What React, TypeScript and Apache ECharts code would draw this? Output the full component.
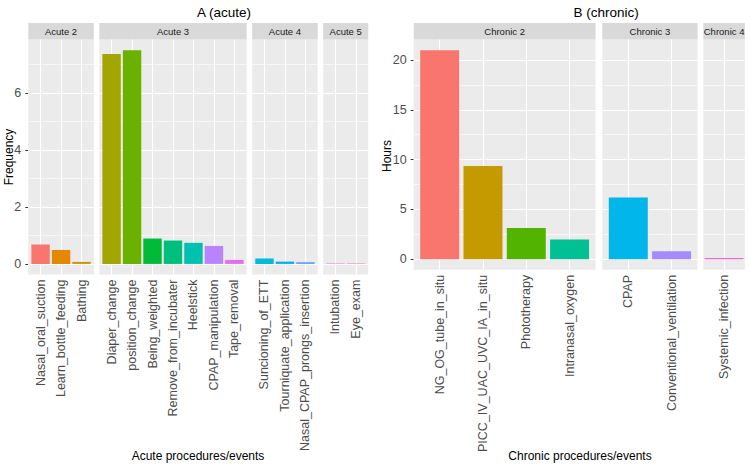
import React, { useEffect, useRef } from "react";
import * as echarts from "echarts";

// ---------- data ----------
const acute2Events = ["Nasal_oral_suction", "Learn_bottle_feeding", "Bathing"];
const acute2Freq = [0.68, 0.49, 0.07];
const acute3Events = ["Diaper_change", "position_change", "Being_weighted", "Remove_from_incubater", "Heelstick", "CPAP_manipulation", "Tape_removal"];
const acute3Freq = [7.37, 7.5, 0.89, 0.82, 0.74, 0.63, 0.14];
const acute4Events = ["Suncioning_of_ETT", "Tourniquate_application", "Nasal_CPAP_prongs_insertion"];
const acute4Freq = [0.19, 0.08, 0.06];
const acute5Events = ["Intubation", "Eye_exam"];
const acute5Freq = [0.015, 0.015];

const chronic2Events = ["NG_OG_tube_in_situ", "PICC_IV_UAC_UVC_IA_in_situ", "Phototherapy", "Intranasal_oxygen"];
const chronic2Hours = [20.97, 9.35, 3.15, 2.0];
const chronic3Events = ["CPAP", "Conventional_ventilation"];
const chronic3Hours = [6.2, 0.8];
const chronic4Events = ["Systemic_infection"];
const chronic4Hours = [0.13];

const acuteStrips = ["Acute 2", "Acute 3", "Acute 4", "Acute 5"];
const chronicStrips = ["Chronic 2", "Chronic 3", "Chronic 4"];

const acuteYTicks = [0, 2, 4, 6];
const acuteYMinor = [1, 3, 5, 7];
const chronicYTicks = [0, 5, 10, 15, 20];
const chronicYMinor = [2.5, 7.5, 12.5, 17.5];

const acute2Colors = ["#F8766D", "#E58700", "#C99800"];
const acute3Colors = ["#A3A500", "#6BB100", "#00BA38", "#00BF7D", "#00C0AF", "#B983FF", "#E76BF3"];
const acute4Colors = ["#00BCD8", "#00B0F6", "#619CFF"];
const acute5Colors = ["#FD61D1", "#FF67A4"];
const chronic2Colors = ["#F8766D", "#C49A00", "#53B400", "#00C094"];
const chronic3Colors = ["#00B6EB", "#A58AFF"];
const chronic4Colors = ["#FB61D7"];

// ---------- layout ----------
const FONT = "'Liberation Sans', Arial, sans-serif";
const STRIP_TOP = 23;
const PANEL_TOP = 39.5;
const A_BOTTOM = 274.6;
const B_BOTTOM = 269.8;
const A_UNIT = 20.47;
const B_UNIT = 43.3;

type Facet = {
  strip: string;
  labels: string[];
  values: number[];
  colors: string[];
  left: number;
  xmin: number;
  xmax: number;
  unit: number;
  bottom: number;
  ymin: number;
  ymax: number;
  ticks: number[];
  minor: number[];
  showY: boolean;
};

const acuteLefts = [28.3, 99.3, 252.2, 323.2];
const chronicLefts = [413.7, 602.3, 703.3];

const acuteFacetData = [
  [acute2Events, acute2Freq, acute2Colors],
  [acute3Events, acute3Freq, acute3Colors],
  [acute4Events, acute4Freq, acute4Colors],
  [acute5Events, acute5Freq, acute5Colors],
] as const;
const chronicFacetData = [
  [chronic2Events, chronic2Hours, chronic2Colors],
  [chronic3Events, chronic3Hours, chronic3Colors],
  [chronic4Events, chronic4Hours, chronic4Colors],
] as const;

const facets: Facet[] = [
  ...acuteFacetData.map(([labels, values, colors], i) => ({
    strip: acuteStrips[i],
    labels: labels as string[],
    values: values as number[],
    colors: colors as string[],
    left: acuteLefts[i],
    xmin: 0.4,
    xmax: labels.length + 0.6,
    unit: A_UNIT,
    bottom: A_BOTTOM,
    ymin: -0.375,
    ymax: 7.875,
    ticks: acuteYTicks,
    minor: acuteYMinor,
    showY: i === 0,
  })),
  ...chronicFacetData.map(([labels, values, colors], i) => ({
    strip: chronicStrips[i],
    labels: labels as string[],
    values: values as number[],
    colors: colors as string[],
    left: chronicLefts[i],
    xmin: labels.length === 1 ? 0.52 : 0.4,
    xmax: labels.length === 1 ? 1.48 : labels.length + 0.6,
    unit: B_UNIT,
    bottom: B_BOTTOM,
    ymin: -1.05,
    ymax: 22.05,
    ticks: chronicYTicks,
    minor: chronicYMinor,
    showY: i === 0,
  })),
];

function buildOption() {
  const grid: any[] = [];
  const xAxis: any[] = [];
  const yAxis: any[] = [];
  const series: any[] = [];
  const graphic: any[] = [];

  facets.forEach((f, k) => {
    const width = (f.xmax - f.xmin) * f.unit;
    const positions = f.labels.map((_, i) => i + 1);
    grid.push({
      left: f.left,
      top: PANEL_TOP,
      width,
      height: f.bottom - PANEL_TOP,
      show: true,
      backgroundColor: "#EBEBEB",
      borderWidth: 0,
      containLabel: false,
    });
    xAxis.push({
      type: "value",
      gridIndex: k,
      min: f.xmin,
      max: f.xmax,
      axisLine: { show: false },
      splitLine: { show: false },
      axisTick: {
        show: true,
        customValues: positions,
        length: 3,
        lineStyle: { color: "#333333", width: 1 },
      },
      axisLabel: {
        show: true,
        customValues: positions,
        rotate: 90,
        margin: 5,
        color: "#4D4D4D",
        fontSize: 12.5,
        fontFamily: FONT,
        formatter: (v: number) => f.labels[Math.round(v) - 1] ?? "",
      },
    });
    yAxis.push({
      type: "value",
      gridIndex: k,
      min: f.ymin,
      max: f.ymax,
      axisLine: { show: false },
      splitLine: { show: false },
      axisTick: {
        show: f.showY,
        customValues: f.ticks,
        length: 3,
        lineStyle: { color: "#333333", width: 1 },
      },
      axisLabel: {
        show: f.showY,
        customValues: f.ticks,
        margin: 7,
        color: "#4D4D4D",
        fontSize: 12.5,
        fontFamily: FONT,
      },
    });
    series.push({
      type: "bar",
      xAxisIndex: k,
      yAxisIndex: k,
      z: 3,
      barWidth: 0.9 * f.unit,
      silent: true,
      data: f.values.map((v, i) => ({
        value: [positions[i], v],
        itemStyle: { color: f.colors[i] },
      })),
      markLine: {
        silent: true,
        z: 1,
        symbol: ["none", "none"],
        label: { show: false },
        emphasis: { disabled: true },
        data: [
          ...f.minor.map((v) => ({ yAxis: v, lineStyle: { color: "#FFFFFF", width: 0.6, type: "solid" } })),
          ...f.ticks.map((v) => ({ yAxis: v, lineStyle: { color: "#FFFFFF", width: 1.1, type: "solid" } })),
          ...positions.map((p) => ({ xAxis: p, lineStyle: { color: "#FFFFFF", width: 1.1, type: "solid" } })),
        ],
      },
    });
    graphic.push({
      type: "rect",
      shape: { x: f.left, y: STRIP_TOP, width, height: PANEL_TOP - STRIP_TOP },
      style: { fill: "#D9D9D9" },
      silent: true,
    });
    graphic.push({
      type: "text",
      x: f.left + width / 2,
      y: (STRIP_TOP + PANEL_TOP) / 2,
      style: {
        text: f.strip,
        fill: "#1A1A1A",
        fontSize: 9.5,
        fontFamily: FONT,
        textAlign: "center",
        textVerticalAlign: "middle",
      },
      silent: true,
    });
  });

  const titleText = (text: string, x: number, y: number, size: number, rot = 0) => ({
    type: "text",
    x,
    y,
    rotation: rot,
    style: {
      text,
      fill: "#000000",
      fontSize: size,
      fontFamily: FONT,
      textAlign: "center",
      textVerticalAlign: "middle",
    },
    silent: true,
  });

  graphic.push(titleText("A (acute)", 224, 12, 13.5));
  graphic.push(titleText("B (chronic)", 606, 12, 13.5));
  graphic.push(titleText("Frequency", 8.5, 157, 12, Math.PI / 2));
  graphic.push(titleText("Hours", 386.5, 156, 12, Math.PI / 2));
  graphic.push(titleText("Acute procedures/events", 198, 456, 12));
  graphic.push(titleText("Chronic procedures/events", 580, 456, 12));

  return {
    animation: false,
    backgroundColor: "#FFFFFF",
    textStyle: { fontFamily: FONT },
    grid,
    xAxis,
    yAxis,
    series,
    graphic,
  };
}

export default function App() {
  const ref = useRef<HTMLDivElement>(null);
  useEffect(() => {
    if (!ref.current) return;
    const chart = echarts.init(ref.current, undefined, { renderer: "svg" });
    chart.setOption(buildOption() as any);
    return () => chart.dispose();
  }, []);
  return (
    <div
      ref={ref}
      style={{ position: "fixed", left: 0, top: 0, width: 750, height: 466, background: "#fff" }}
    />
  );
}
